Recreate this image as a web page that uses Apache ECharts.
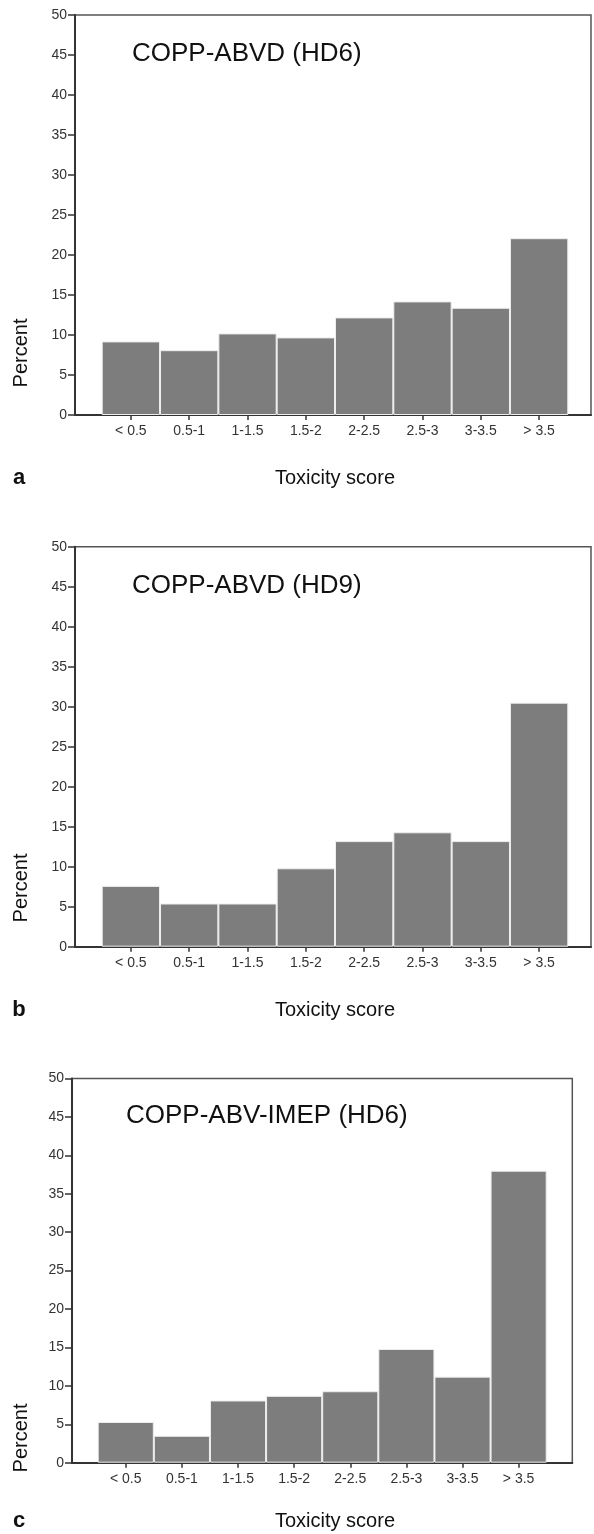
<!DOCTYPE html>
<html>
<head>
<meta charset="utf-8">
<script src="https://cdn.jsdelivr.net/npm/echarts@6/dist/echarts.min.js"></script>
<style>
	html, body { margin: 0; padding: 0; background: #fff; }
	#chart { width: 594px; height: 1534px; }
</style>
</head>
<body>
<div id="chart"></div>
<script>
	// toxicity score bins
	var categories = ['< 0.5', '0.5-1', '1-1.5', '1.5-2', '2-2.5', '2.5-3', '3-3.5', '> 3.5']
	// percent per bin
	var abvdHd6 = [9.2, 8.1, 10.2, 9.7, 12.2, 14.2, 13.4, 22.1]
	var abvdHd9 = [7.6, 5.4, 5.4, 9.8, 13.2, 14.3, 13.2, 30.5]
	var imepHd6 = [5.3, 3.5, 8.1, 8.7, 9.3, 14.8, 11.2, 38.0]
	var panelTitles = ['COPP-ABVD (HD6)', 'COPP-ABVD (HD9)', 'COPP-ABV-IMEP (HD6)']
	var panelLetters = ['a', 'b', 'c']
	var yMin = 0
	var yMax = 50
	var yStep = 5

	var font = "'Liberation Sans', Arial, sans-serif"

	// layout of each panel (pixels)
	var panels = [
		{ data: abvdHd6, frame: [75, 15, 516, 400], bars: [101.7, 466.6], titleXY: [132, 54], percentY: 353, footY: 478 },
		{ data: abvdHd9, frame: [75, 546.7, 516, 400], bars: [101.7, 466.6], titleXY: [132, 586], percentY: 888, footY: 1010 },
		{ data: imepHd6, frame: [72, 1078.5, 500.3, 384.2], bars: [97.7, 449], titleXY: [126, 1115.5], percentY: 1438, footY: 1521 }
	]

	var grid = [], xAxis = [], yAxis = [], series = [], graphic = []

	panels.forEach(function (p, i) {
		var f = p.frame
		// frame grid: box + y axis
		grid.push({ left: f[0], top: f[1], width: f[2], height: f[3], show: true, borderColor: '#555', borderWidth: 1.5 })
		// bar grid
		grid.push({ left: p.bars[0], top: f[1], width: p.bars[1], height: f[3] })

		xAxis.push({
			gridIndex: i * 2, type: 'value', min: 0, max: 1,
			axisLine: { show: true, lineStyle: { color: '#333', width: 2 } },
			axisTick: { show: false }, axisLabel: { show: false }, splitLine: { show: false }
		})
		xAxis.push({
			gridIndex: i * 2 + 1, type: 'category', data: categories,
			axisLine: { show: false },
			axisTick: { show: true, alignWithLabel: true, length: 5, lineStyle: { color: '#333', width: 1.5 } },
			axisLabel: { color: '#333', fontSize: 14, fontFamily: font, margin: 9 },
			splitLine: { show: false }
		})
		yAxis.push({
			gridIndex: i * 2, type: 'value', min: yMin, max: yMax, interval: yStep,
			axisLine: { show: true, lineStyle: { color: '#333', width: 2 } },
			axisTick: { show: true, length: 7, lineStyle: { color: '#333', width: 1.5 } },
			axisLabel: { color: '#333', fontSize: 14, fontFamily: font, margin: 8 },
			splitLine: { show: false }
		})
		yAxis.push({ gridIndex: i * 2 + 1, type: 'value', min: yMin, max: yMax, show: false, splitLine: { show: false } })

		series.push({
			type: 'bar',
			xAxisIndex: i * 2 + 1,
			yAxisIndex: i * 2 + 1,
			data: p.data,
			barCategoryGap: '0%',
			silent: true,
			itemStyle: { color: '#7d7d7d', borderColor: '#eeeeee', borderWidth: 1 }
		})

		graphic.push({
			type: 'text', x: p.titleXY[0], y: p.titleXY[1],
			style: { text: panelTitles[i], fontSize: 26, fontFamily: font, fill: '#111', align: 'left', verticalAlign: 'middle' }
		})
		graphic.push({
			type: 'text', x: 21, y: p.percentY, rotation: Math.PI / 2,
			style: { text: 'Percent', fontSize: 20, fontFamily: font, fill: '#111', align: 'center', verticalAlign: 'middle' }
		})
		graphic.push({
			type: 'text', x: 19, y: p.footY,
			style: { text: panelLetters[i], fontSize: 22, fontWeight: 'bold', fontFamily: font, fill: '#111', align: 'center', verticalAlign: 'middle' }
		})
		graphic.push({
			type: 'text', x: 335, y: p.footY,
			style: { text: 'Toxicity score', fontSize: 20, fontFamily: font, fill: '#111', align: 'center', verticalAlign: 'middle' }
		})
	})

	var myChart = echarts.init(document.getElementById('chart'), null, { renderer: 'canvas' })
	myChart.setOption({
		animation: false,
		backgroundColor: '#fff',
		grid: grid,
		xAxis: xAxis,
		yAxis: yAxis,
		series: series,
		graphic: graphic
	})
</script>
</body>
</html>
